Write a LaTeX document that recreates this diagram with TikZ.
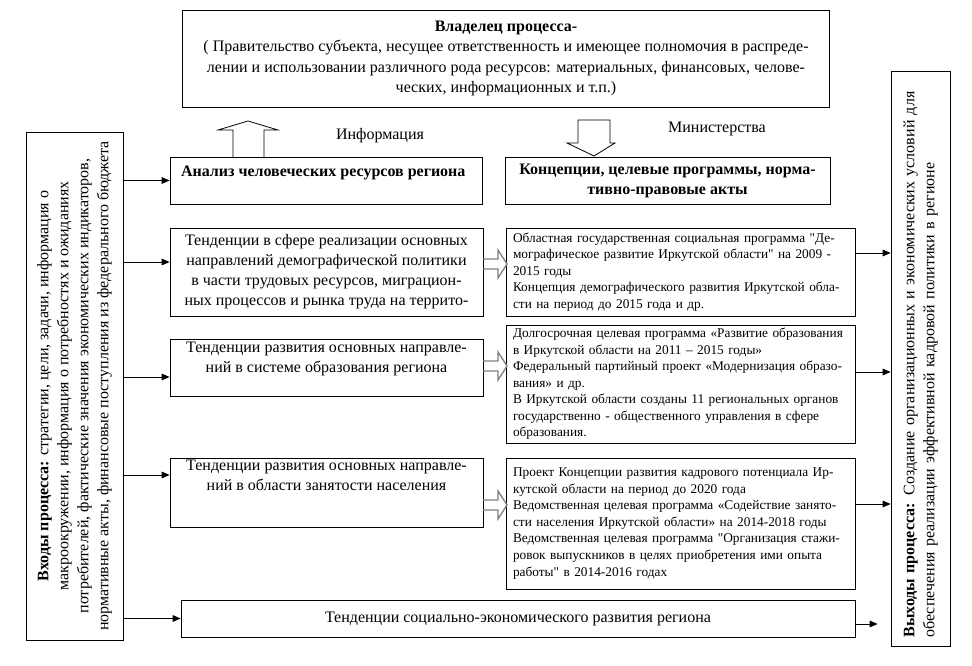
\documentclass[tikz,border=0pt]{standalone}
\usepackage{fontspec}
\setmainfont{Liberation Serif}[Ligatures=TeXReset]
\usetikzlibrary{arrows.meta, positioning}
\usetikzlibrary{calc}
\newdimen\pxu \pxu=0.75pt

\tikzset{
  box/.style={draw, line width=0.6pt, inner sep=0pt, align=center},
  prog/.style={box, align=left, text width=335\pxu, font=\fontsize{10}{12.4}\selectfont},
  arr/.style={line width=0.6pt, -{Triangle[length=6pt,width=5pt]}},
  hollow/.style={draw, line width=0.6pt},
  grayarr/.style={draw=gray, line width=1pt},
}

\begin{document}
\begin{tikzpicture}[x=0.75pt, y=-0.75pt, font=\fontsize{12}{15}\selectfont]
\useasboundingbox (0,0) rectangle (972,666);

% owner and side boxes
\node[box, minimum width=647\pxu, minimum height=97\pxu, font=\fontsize{12}{15.4}\selectfont] (owner) at (506,58.5)
  {\textbf{Владелец процесса-}\\( Правительство субъекта, несущее ответственность и имеющее полномочия в распреде-\\лении и использовании различного рода ресурсов: материальных, финансовых, челове-\\ческих, информационных и т.п.)};
\node[box, rotate=90, minimum width=508\pxu, minimum height=97\pxu] (inputs) at (74.5,386)
  {\textbf{Входы процесса:} стратегии, цели, задачи, информация о\\макроокружении, информация о потребностях и ожиданиях\\потребителей, фактические значения экономических индикаторов,\\нормативные акты, финансовые поступления из федерального бюджета};
\node[box, rotate=90, align=left, text width=558\pxu, minimum width=575\pxu, minimum height=59\pxu] (outputs) at (920.5,358.5)
  {\textbf{Выходы процесса:} Создание организационных и экономических условий для\\обеспечения реализации эффективной кадровой политики в регионе};

% middle column
\node[box, minimum width=312\pxu, minimum height=47\pxu] (ana) at (326,180.5)
  {\parbox[c][30\pxu][t]{290\pxu}{\textbf{Анализ человеческих ресурсов региона}}};
\node[box, minimum width=325\pxu, minimum height=47\pxu] (conc) at (667.5,180.5)
  {\textbf{Концепции, целевые программы, норма-}\\\textbf{тивно-правовые акты}};
\node (info) at (380,136) {Информация};
\node (mins) at (717,129) {Министерства};

\node[box, minimum width=313\pxu, minimum height=88\pxu] (trendA) at (326.5,272)
  {Тенденции в сфере реализации основных\\направлений демографической политики\\в части трудовых ресурсов, миграцион-\\ных процессов и рынка труда на террито-};
\node[prog, minimum width=349\pxu, minimum height=88\pxu] (progA) at (680.5,272)
  {Областная государственная социальная программа "Де-\\мографическое развитие Иркутской области" на 2009 -\\2015 годы\\Концепция демографического развития Иркутской обла-\\сти на период до 2015 года и др.};

\node[box, minimum width=313\pxu, minimum height=57\pxu] (trendB) at (326.5,367.5)
  {\parbox[c][50\pxu][t]{300\pxu}{\centering Тенденции развития основных направле-\\ний в системе образования региона}};
\node[prog, minimum width=349\pxu, minimum height=118\pxu] (progB) at (680.5,384)
  {Долгосрочная целевая программа «Развитие образования\\в Иркутской области на 2011 – 2015 годы»\\Федеральный партийный проект «Модернизация образо-\\вания» и др.\\В Иркутской области созданы 11 региональных органов\\государственно - общественного управления в сфере\\образования.};

\node[box, minimum width=313\pxu, minimum height=69\pxu] (trendC) at (326.5,492.5)
  {\parbox[c][64\pxu][t]{300\pxu}{\centering Тенденции развития основных направле-\\ний в области занятости населения}};
\node[prog, minimum width=349\pxu, minimum height=131\pxu] (progC) at (680.5,523.5)
  {Проект Концепции развития кадрового потенциала Ир-\\кутской области на период до 2020 года\\Ведомственная целевая программа «Содействие занято-\\сти населения Иркутской области» на 2014-2018 годы\\Ведомственная целевая программа "Организация стажи-\\ровок выпускников в целях приобретения ими опыта\\работы" в 2014-2016 годах};

\node[box, minimum width=674\pxu, minimum height=37\pxu] (socio) at (518,618.5)
  {Тенденции социально-экономического развития региона};

% hollow arrows
\draw[hollow] (233,157) -- (233,130) -- (218,130) -- (248,121) -- (278,130) -- (264,130) -- (264,157);
\draw[hollow] (578,120) -- (578,143) -- (567,143) -- (594,156) -- (615,143) -- (610,143) -- (610,120) -- cycle;
\foreach \yy in {264,366,505}
  \draw[grayarr] (483,\yy-5) -- (498,\yy-5) -- (498,\yy-14) -- (507,\yy) -- (498,\yy+14) -- (498,\yy+5) -- (483,\yy+5);

% inputs
\coordinate (inA) at ($(trendA.west)+(0,-10)$);
\coordinate (inB) at ($(trendB.west)+(0,9.5)$);
\coordinate (inC) at ($(trendC.west)+(0,-17.5)$);
\draw[arr] (inputs.south |- ana.west) -- (ana.west);
\draw[arr] (inputs.south |- inA) -- (inA);
\draw[arr] (inputs.south |- inB) -- (inB);
\draw[arr] (inputs.south |- inC) -- (inC);
\draw[arr] (inputs.south |- socio.west) -- (socio.west);

% outputs
\coordinate (outA) at ($(progA.east)+(0,-19)$);
\coordinate (outB) at ($(progB.east)+(0,-12)$);
\coordinate (outC) at ($(progC.east)+(0,-19.5)$);
\coordinate (outD) at ($(socio.east)+(0,5.5)$);
\coordinate (endD) at ($(outputs.north |- outD)+(-13,0)$);
\draw[arr] (outA) -- (outputs.north |- outA);
\draw[arr] (outB) -- (outputs.north |- outB);
\draw[arr] (outC) -- (outputs.north |- outC);
\draw[arr] (outD) -- (endD);
\end{tikzpicture}
\end{document}
